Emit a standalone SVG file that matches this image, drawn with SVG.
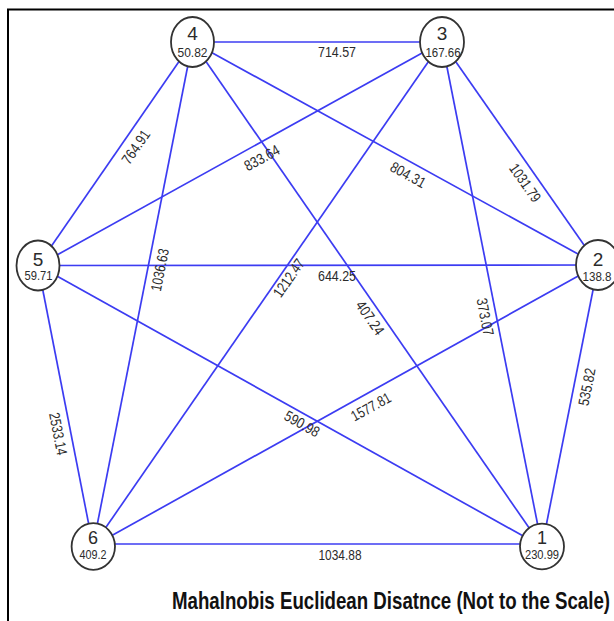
<svg xmlns="http://www.w3.org/2000/svg" width="614" height="621" viewBox="0 0 614 621">
<style>
.frame{stroke:#000;stroke-width:2;fill:none}
.edge{stroke:#3c3cf2;stroke-width:1.7;fill:none}
.node ellipse{fill:#fff;stroke:#333;stroke-width:1.8}
text{font-family:"Liberation Sans Narrow","Liberation Sans",Arial,sans-serif;fill:#2b2b2b;text-anchor:middle}
.num{font-size:19px}
.val{font-size:13px}
.bnum{font-size:18px}
.bval{font-size:12.5px}
.el{font-size:15px}
.title{font-size:24px;font-weight:bold;fill:#111;text-anchor:start}
</style>
<rect width="614" height="621" fill="#fff"/>
<path class="frame" d="M8 621 V9.5 H614"/>
<g id="connectors">
<line class="edge" x1="192.5" y1="42" x2="442" y2="42"/>
<line class="edge" x1="192.5" y1="42" x2="38" y2="265.5"/>
<line class="edge" x1="192.5" y1="42" x2="93" y2="546"/>
<line class="edge" x1="192.5" y1="42" x2="542" y2="546.5"/>
<line class="edge" x1="192.5" y1="42" x2="598" y2="265"/>
<line class="edge" x1="442" y1="42" x2="38" y2="265.5"/>
<line class="edge" x1="442" y1="42" x2="93" y2="546"/>
<line class="edge" x1="442" y1="42" x2="542" y2="546.5"/>
<line class="edge" x1="442" y1="42" x2="598" y2="265"/>
<line class="edge" x1="38" y1="265.5" x2="598" y2="265"/>
<line class="edge" x1="38" y1="265.5" x2="93" y2="546"/>
<line class="edge" x1="38" y1="265.5" x2="542" y2="546.5"/>
<line class="edge" x1="598" y1="265" x2="93" y2="546"/>
<line class="edge" x1="598" y1="265" x2="542" y2="546.5"/>
<line class="edge" x1="93" y1="544" x2="542" y2="544"/>
<text class="el" x="337" y="57" textLength="38" lengthAdjust="spacingAndGlyphs">714.57</text>
<text class="el" x="337" y="281" textLength="38" lengthAdjust="spacingAndGlyphs">644.25</text>
<text class="el" x="340" y="560" textLength="43" lengthAdjust="spacingAndGlyphs">1034.88</text>
<text class="el" transform="translate(136,147) rotate(-55.4)" y="5" textLength="38" lengthAdjust="spacingAndGlyphs">764.91</text>
<text class="el" transform="translate(262,158) rotate(-28.9)" y="5" textLength="38" lengthAdjust="spacingAndGlyphs">833.64</text>
<text class="el" transform="translate(408,175) rotate(28.8)" y="5" textLength="38" lengthAdjust="spacingAndGlyphs">804.31</text>
<text class="el" transform="translate(525,183) rotate(55)" y="5" textLength="43" lengthAdjust="spacingAndGlyphs">1031.79</text>
<text class="el" transform="translate(160,270) rotate(-78.9)" y="5" textLength="43" lengthAdjust="spacingAndGlyphs">1036.63</text>
<text class="el" transform="translate(289,278) rotate(-55.2)" y="5" textLength="43" lengthAdjust="spacingAndGlyphs">1212.47</text>
<text class="el" transform="translate(370,318) rotate(55.3)" y="5" textLength="38" lengthAdjust="spacingAndGlyphs">407.24</text>
<text class="el" transform="translate(485,317) rotate(78.8)" y="5" textLength="38" lengthAdjust="spacingAndGlyphs">373.07</text>
<text class="el" transform="translate(587,387) rotate(-78.8)" y="5" textLength="38" lengthAdjust="spacingAndGlyphs">535.82</text>
<text class="el" transform="translate(371,407) rotate(-29)" y="5" textLength="43" lengthAdjust="spacingAndGlyphs">1577.81</text>
<text class="el" transform="translate(302,424) rotate(29.2)" y="5" textLength="38" lengthAdjust="spacingAndGlyphs">590.98</text>
<text class="el" transform="translate(58,434) rotate(78.9)" y="5" textLength="43" lengthAdjust="spacingAndGlyphs">2533.14</text>
</g>
<g id="node4" class="node"><ellipse cx="192.5" cy="42" rx="21.5" ry="25"/><text class="num" x="192.5" y="40">4</text><text class="val" x="192.5" y="57" textLength="30" lengthAdjust="spacingAndGlyphs">50.82</text></g>
<g id="node3" class="node"><ellipse cx="442" cy="42" rx="22" ry="25"/><text class="num" x="442" y="40">3</text><text class="val" x="443" y="57" textLength="35" lengthAdjust="spacingAndGlyphs">167.66</text></g>
<g id="node5" class="node"><ellipse cx="38" cy="265.5" rx="21.5" ry="25"/><text class="num" x="38" y="266">5</text><text class="val" x="38.5" y="280" textLength="28" lengthAdjust="spacingAndGlyphs">59.71</text></g>
<g id="node2" class="node"><ellipse cx="598" cy="265" rx="22" ry="25"/><text class="num" x="598" y="266">2</text><text class="val" x="597" y="281" textLength="29" lengthAdjust="spacingAndGlyphs">138.8</text></g>
<g id="node6" class="node"><ellipse cx="93.3" cy="546.5" rx="21.7" ry="23.3"/><text class="bnum" x="93" y="544">6</text><text class="bval" x="93" y="559" textLength="27" lengthAdjust="spacingAndGlyphs">409.2</text></g>
<g id="node1" class="node"><ellipse cx="542" cy="546.5" rx="22" ry="22.8"/><text class="bnum" x="542" y="544">1</text><text class="bval" x="542" y="559" textLength="34" lengthAdjust="spacingAndGlyphs">230.99</text></g>
<text class="title" x="172" y="609" textLength="438" lengthAdjust="spacingAndGlyphs">Mahalnobis Euclidean Disatnce (Not to the Scale)</text>
</svg>
